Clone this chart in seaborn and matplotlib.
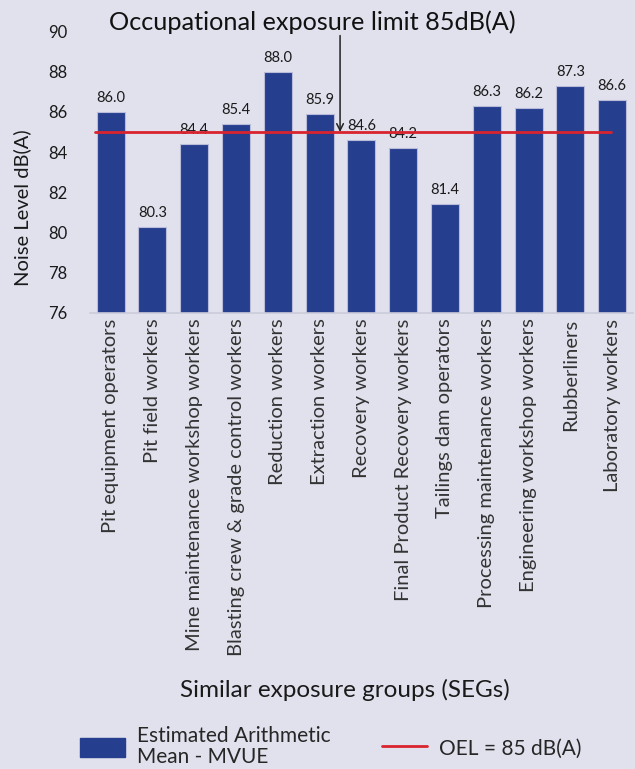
import matplotlib
matplotlib.use("Agg")
import matplotlib.pyplot as plt
import seaborn as sns
import pandas as pd
from matplotlib.patches import Patch
from matplotlib.lines import Line2D

categories = ["Pit equipment operators", "Pit field workers",
              "Mine maintenance workshop workers",
              "Blasting crew & grade control workers", "Reduction workers",
              "Extraction workers", "Recovery workers",
              "Final Product Recovery workers", "Tailings dam operators",
              "Processing maintenance workers", "Engineering workshop workers",
              "Rubberliners", "Laboratory workers"]
values = [86.0, 80.3, 84.4, 85.4, 88.0, 85.9, 84.6, 84.2, 81.4, 86.3, 86.2, 87.3, 86.6]
oel = 85
yticks = [76, 78, 80, 82, 84, 86, 88, 90]

BG = "#E1E1EE"
BAR = "#253F8E"
RED = "#D9232E"

sns.set_theme(style="white")
plt.rcParams['font.family'] = ['Lato', 'DejaVu Sans']

df = pd.DataFrame({"SEG": categories, "Noise": values})

fig = plt.figure(figsize=(6.35, 7.69), dpi=100, facecolor=BG)
ax = fig.add_axes([0.1413, 0.593, 0.8556, 0.366])
ax.set_facecolor(BG)

sns.barplot(data=df, x="SEG", y="Noise", color=BAR, saturation=1, width=0.67,
            edgecolor="#B8BCD8", linewidth=0.8, ax=ax)

ax.set_ylim(76, 90)
ax.set_xlim(-0.5, len(categories) - 0.5)
ax.set_yticks(yticks)
ax.set_yticklabels([str(t) for t in yticks], fontsize=12, color="#1a1a1a")
ax.set_xticks(range(len(categories)))
ax.set_xticklabels(categories, rotation=90, fontsize=14.5, color="#333333")
ax.tick_params(axis="y", length=0, pad=16)
ax.tick_params(axis="x", length=0, pad=4)
for s in ["top", "right", "left"]:
    ax.spines[s].set_visible(False)
ax.spines["bottom"].set_color("#CBCBDA")
ax.spines["bottom"].set_linewidth(1.2)

for i, v in enumerate(values):
    ax.text(i, v + 0.35, f"{v:.1f}", ha="center", va="bottom", fontsize=10.5,
            color="#1a1a1a")

ax.plot([-0.38, 11.97], [oel, oel], color=RED, lw=2, zorder=5)

ax.set_ylabel("Noise Level dB(A)", fontsize=14.5, color="#1a1a1a")
ax.yaxis.set_label_coords((31 - 89.7) / 543.3, (313 - 208) / 281.4)
ax.set_xlabel("Similar exposure groups (SEGs)", fontsize=17.5, color="#1a1a1a")
ax.xaxis.set_label_coords((345 - 89.7) / 543.3, -(690 - 313) / 281.4)
ax.xaxis.label.set_va("center")

ax.annotate("", xy=(5.49, oel), xytext=(5.49, 89.8),
            arrowprops=dict(arrowstyle="->", color="#222222", lw=1.1,
                            shrinkA=0, shrinkB=0), annotation_clip=False)
fig.text(312 / 635, 1 - 22 / 769, "Occupational exposure limit 85dB(A)",
         ha="center", va="center", fontsize=18.2, color="#111111")

handles = [Patch(facecolor=BAR, edgecolor=BAR),
           Line2D([0], [0], color=RED, lw=2)]
labels = ["Estimated Arithmetic\nMean - MVUE", "OEL = 85 dB(A)"]
leg = fig.legend(handles, labels, loc="lower left",
                 bbox_to_anchor=(70 / 635, -0.011), borderpad=0,
                 ncol=2, frameon=False, fontsize=15, handlelength=2.15,
                 handleheight=1.0, columnspacing=2.45, handletextpad=0.58,
                 labelspacing=0.2)
for t in leg.get_texts():
    t.set_linespacing(1.05)

fig.savefig("out.png", dpi=100, facecolor=BG)
